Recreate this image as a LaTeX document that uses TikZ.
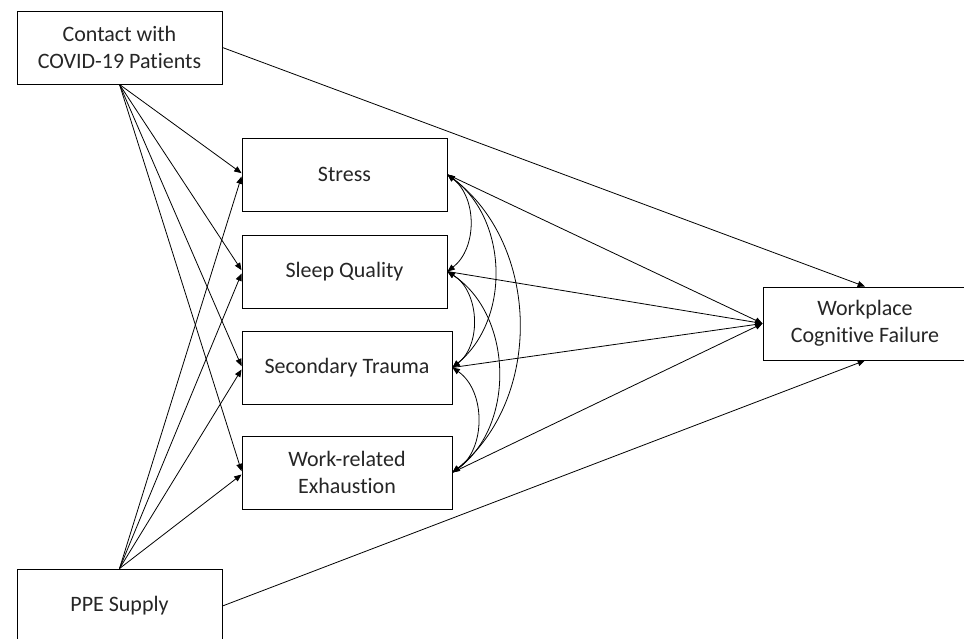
\documentclass[tikz,border=0pt]{standalone}
\usepackage{fontspec}
\setmainfont{Carlito}[Ligatures=NoCommon]
\usetikzlibrary{arrows.meta}
\begin{document}
\begin{tikzpicture}[x=0.75pt,y=-0.75pt,
  box/.style={draw=black,line width=0.7pt,minimum width=205*0.75pt,minimum height=73*0.75pt,
    align=center,font=\fontsize{16.5pt}{20pt}\selectfont,text=black!85,inner sep=0pt},
  path/.style={line width=0.6pt,-{Triangle[length=5.5pt,width=4.5pt]}},
  cov/.style={line width=0.6pt,{Triangle[length=5.5pt,width=4.5pt]}-{Triangle[length=5.5pt,width=4.5pt]}}]
\useasboundingbox (0,0) rectangle (964,639);
\clip (0,0) rectangle (964,639);
\fill[white] (0,0) rectangle (964,639);
\node[box] (contact) at (119.5,47.5) {Contact with\\COVID-19 Patients};
\node[box] (stress) at (344.5,174.5) {Stress};
\node[box] (sleep) at (344.5,271.5) {Sleep Quality};
\node[box,minimum width=210*0.75pt] (trauma) at (347,367.5) {Secondary Trauma};
\node[box,minimum width=210*0.75pt] (exh) at (347,472.5) {Work-related\\Exhaustion};
\node[box,minimum height=74*0.75pt] (ppe) at (119.5,606) {PPE Supply};
\node[box,minimum width=204*0.75pt] (wcf) at (865,323.5) {Workplace\\Cognitive Failure};
\foreach \m in {stress,sleep,trauma,exh}{
  \draw[path] (contact.south) -- ([yshift=1pt]\m.west);
  \draw[path] (ppe.north) -- ([yshift=-1.5pt]\m.west);
  \draw[path] (\m.east) -- (wcf.west);
}
\draw[path] (contact.east) -- (wcf.north);
\draw[path] (ppe.east) -- (wcf.south);
\draw[cov] (stress.east) to[bend left=52] (sleep.east);
\draw[cov] (stress.east) to[bend left=52] (trauma.east);
\draw[cov] (stress.east) to[bend left=52] (exh.east);
\draw[cov] (sleep.east) to[bend left=55] (trauma.east);
\draw[cov] (sleep.east) to[bend left=55] (exh.east);
\draw[cov] (trauma.east) to[bend left=55] (exh.east);
\end{tikzpicture}
\end{document}
